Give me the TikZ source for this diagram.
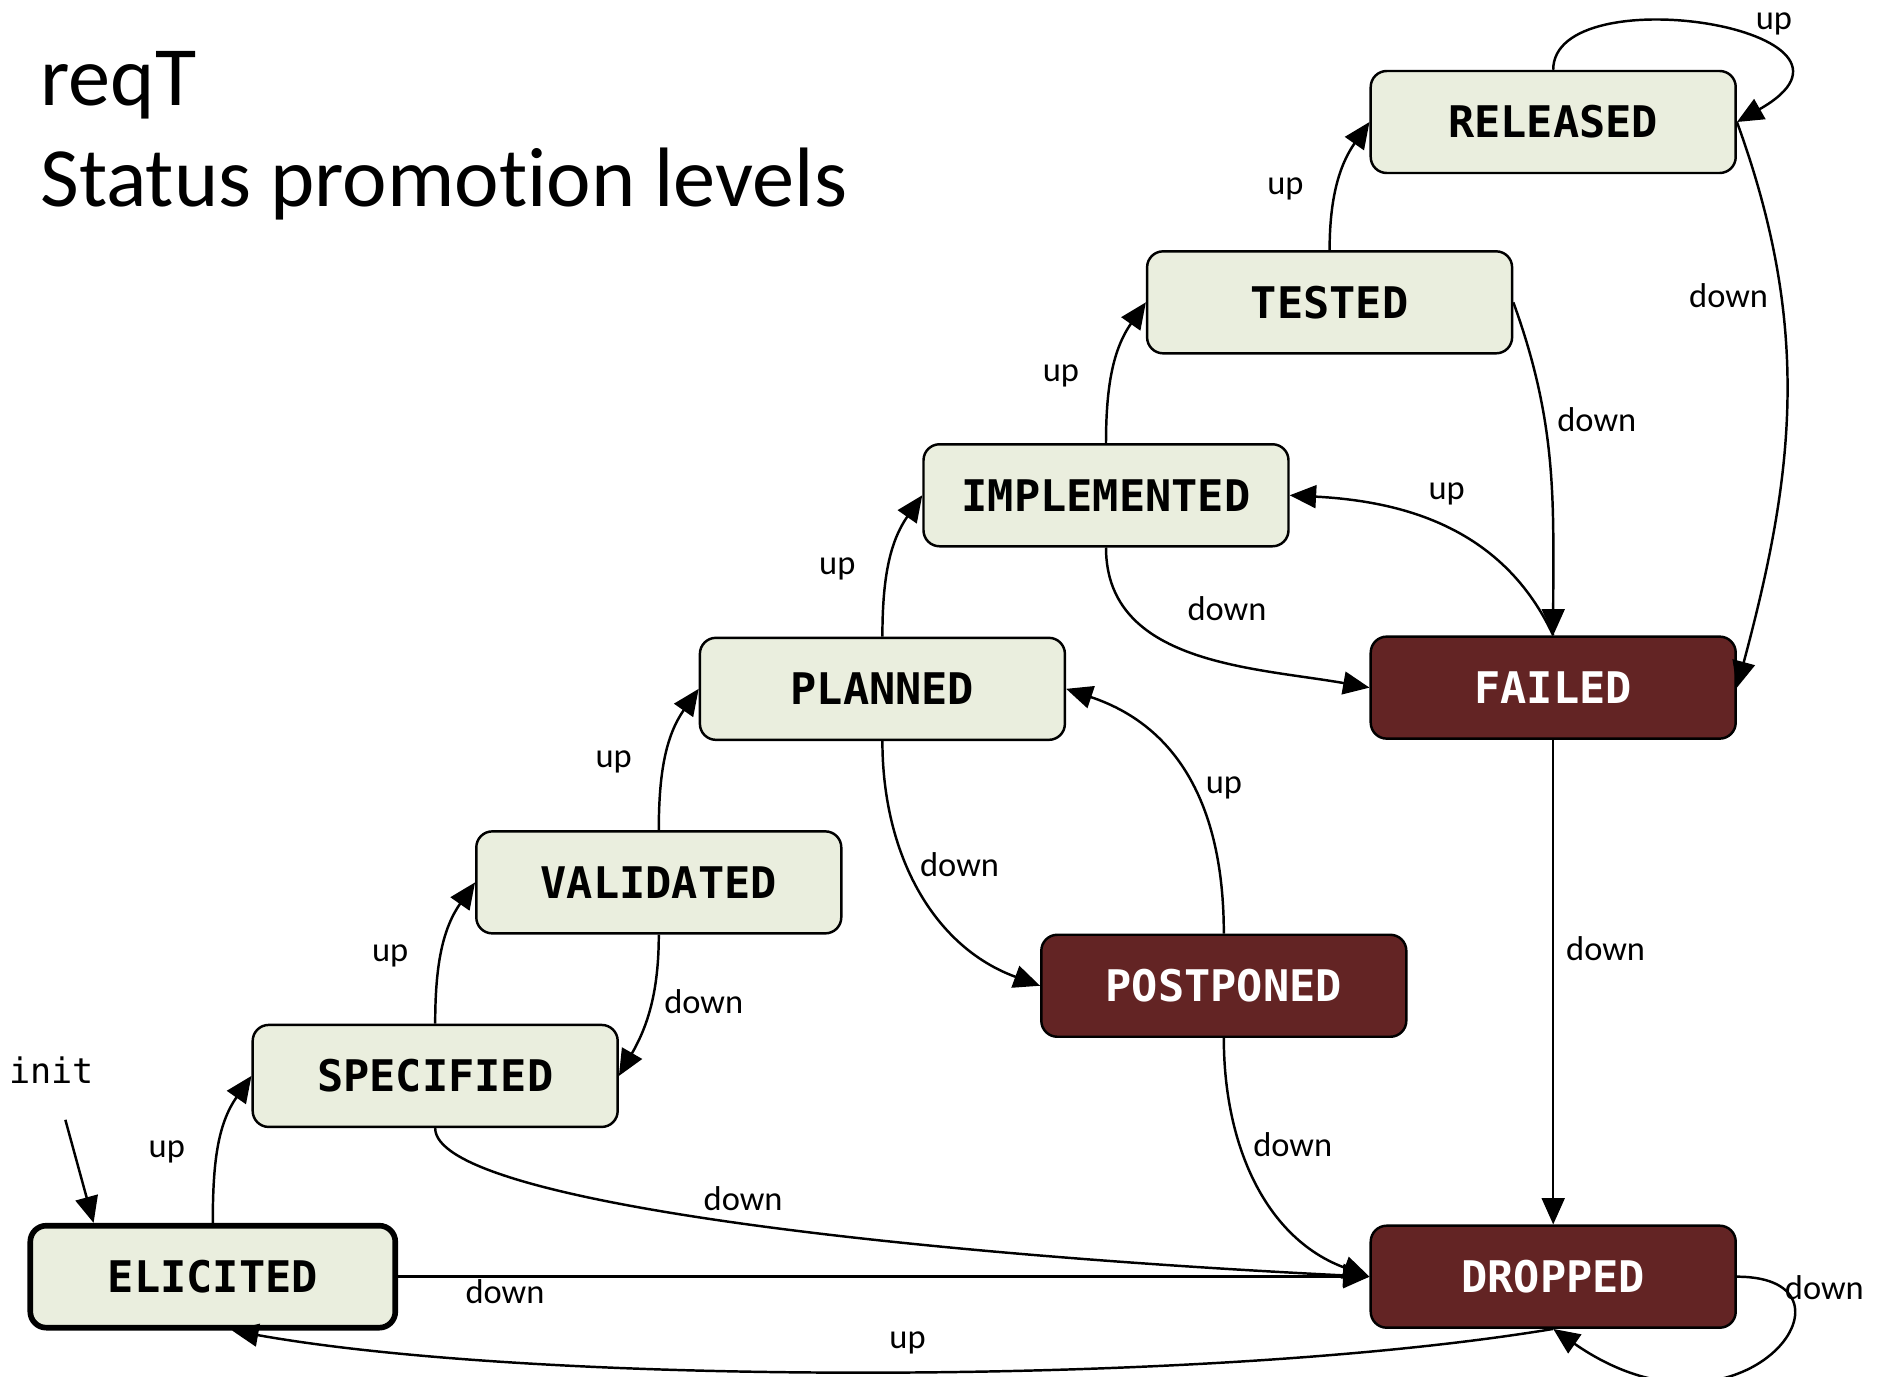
\documentclass[tikz,border=0pt]{standalone}
\usepackage{fontspec}
\setmainfont{Carlito}[Ligatures={NoCommon,NoContextual,NoRare}]
\newfontfamily\statefont{DejaVu Sans Mono}
\usetikzlibrary{arrows.meta,calc}
\definecolor{okfill}{RGB}{234,238,222}
\definecolor{badfill}{RGB}{99,36,36}

\begin{document}
\begin{tikzpicture}[x=0.12022mm,y=0.12022mm,
    state/.style={draw=black,line width=0.7pt,rounded corners=1.6mm,minimum width=36.5mm,minimum height=10.2mm,inner sep=0pt,font=\statefont\fontsize{12.4}{14}\selectfont\bfseries},
    ok/.style={state,fill=okfill,text=black},
    bad/.style={state,fill=badfill,text=white},
    edge/.style={-{Triangle[length=7.5pt,width=6.5pt]},line width=0.7pt},
    lbl/.style={font=\fontsize{9.8}{12}\selectfont},
    heading/.style={anchor=base west,inner sep=0pt,font=\fontsize{24}{28}\selectfont}]
    \useasboundingbox (0,0) rectangle (1568,1145);
    \node[heading] (title1) at (33,1057) {reqT};
    \node[heading] (title2) at (33,973) {Status promotion levels};

    \node[ok] (released) at (1292,1043.5) {RELEASED};
    \node[ok] (tested) at (1106,893.5) {TESTED};
    \node[ok] (implemented) at (920,733) {IMPLEMENTED};
    \node[ok] (planned) at (734,572) {PLANNED};
    \node[ok] (validated) at (548,411) {VALIDATED};
    \node[ok] (specified) at (362,250) {SPECIFIED};
    \node[ok,line width=1.6pt] (elicited) at (177,83) {ELICITED};
    \node[bad] (failed) at (1292,573) {FAILED};
    \node[bad] (postponed) at (1018,325) {POSTPONED};
    \node[bad] (dropped) at (1292,83) {DROPPED};
    \node[font=\statefont\fontsize{10}{12}\selectfont] (init) at (43,255) {init};

    \draw[edge,shorten <=2.5mm] (init) -- ($(elicited.north west)+(55,0)$);
    \draw[edge] (elicited.north) to[out=90,in=235] node[lbl,pos=.45,left=2mm] (u1) {up} (specified.west);
    \draw[edge] (specified.north) to[out=90,in=235] node[lbl,pos=.45,left=2mm] (u2) {up} (validated.west);
    \draw[edge] (validated.north) to[out=90,in=235] node[lbl,pos=.45,left=2mm] (u3) {up} (planned.west);
    \draw[edge] (planned.north) to[out=90,in=235] node[lbl,pos=.45,left=2mm] (u4) {up} (implemented.west);
    \draw[edge] (implemented.north) to[out=90,in=235] node[lbl,pos=.45,left=2mm] (u5) {up} (tested.west);
    \draw[edge] (tested.north) to[out=90,in=235] node[lbl,pos=.45,left=2mm] (u6) {up} (released.west);
    \draw[edge] (released.north) .. controls +(0,79) and +(136,77) .. node[lbl,pos=.6,above right,yshift=-1.2mm] (u7) {up} (released.east);
    \draw[edge] (released.east) to[out=-70,in=75] node[lbl,pos=.3,left] (d7) {down} (failed.east);
    \draw[edge] (tested.east) to[out=-70,in=90] node[lbl,pos=.35,right] (d6) {down} (failed.north);
    \draw[edge] (failed.north) to[out=115,in=-3] node[lbl,pos=.5,above=1mm] (u10) {up} (implemented.east);
    \draw[edge] (implemented.south) to[out=270,in=170] node[lbl,pos=.6,above=3mm] (d5) {down} (failed.west);
    \draw[edge] (postponed.north) .. controls +(0,110) and +(90,-30) .. node[lbl,pos=.45,right] (u9) {up} (planned.east);
    \draw[edge] (planned.south) to[out=270,in=160] node[lbl,pos=.4,right] (d4) {down} (postponed.west);
    \draw[edge] (validated.south) to[out=270,in=60] node[lbl,pos=.45,right] (d10) {down} (specified.east);
    \draw[edge] (failed) -- node[lbl,pos=.43,right] (d8) {down} (dropped);
    \draw[edge] (postponed.south) to[out=270,in=160] node[lbl,pos=.35,right] (d3) {down} (dropped.west);
    \draw[edge] (specified.south) .. controls +(0,-60) and +(-400,20) .. node[lbl,pos=.52,above] (d2) {down} (dropped.west);
    \draw[edge] (elicited) -- node[lbl,pos=.11,below,yshift=1mm] (d1) {down} (dropped);
    \draw[edge] (dropped.east) .. controls +(116,0) and +(158,-110) .. node[lbl,pos=.15,right,xshift=-1mm] (d9) {down} (dropped.south);
    \draw[edge] (dropped.south) .. controls +(-290,-48) and +(257,-46) .. node[lbl,pos=.48,above,yshift=.5mm] (u8) {up} ($(elicited.south)+(16,0)$);
\end{tikzpicture}
\end{document}
